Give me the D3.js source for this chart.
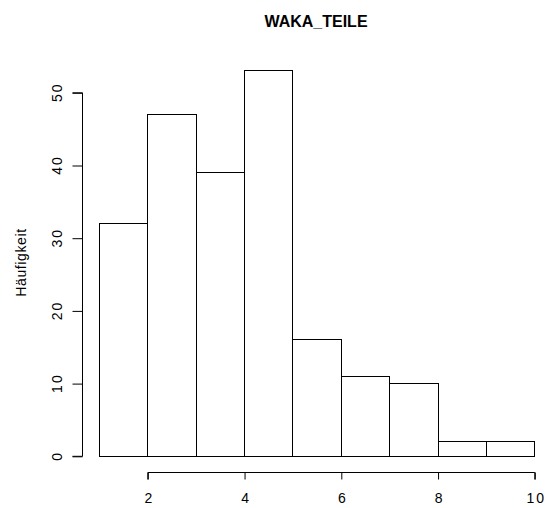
<!DOCTYPE html>
<html>
<head>
<meta charset="utf-8">
<script src="https://cdn.jsdelivr.net/npm/d3@7"></script>
<style>
  html, body { margin: 0; padding: 0; background: #fff; }
  svg { display: block; }
  text { font-family: "Liberation Sans", Arial, sans-serif; fill: #000; }
</style>
</head>
<body>
<script>
// Histogram of WAKA_TEILE: bin edges and counts per bin
const binStarts = [1, 2, 3, 4, 5, 6, 7, 8, 9];
const binWidth = 1;
const counts = [32, 47, 39, 53, 16, 11, 10, 2, 2];
const xTicks = [2, 4, 6, 8, 10];
const yTicks = [0, 10, 20, 30, 40, 50];
const title = "WAKA_TEILE";
const yLabel = "Häufigkeit";

const W = 549, H = 508;
const svg = d3.select("body").append("svg").attr("width", W).attr("height", H);

const x = d3.scaleLinear().domain([2, 10]).range([147.3, 534.3]);
const y = d3.scaleLinear().domain([0, 50]).range([455.8, 92.3]);

const tickFont = g => g
  .style("font-size", "14px")
  .style("letter-spacing", "2px")
  .style("font-family", "'Liberation Sans', Arial, sans-serif");

// bars
svg.append("g")
  .selectAll("rect")
  .data(binStarts.map((s, i) => ({ s, c: counts[i] })))
  .join("rect")
  .attr("x", d => Math.round(x(d.s)) + 0.5)
  .attr("y", d => Math.round(y(d.c)) + 0.5)
  .attr("width", d => Math.round(x(d.s + binWidth)) - Math.round(x(d.s)))
  .attr("height", d => Math.round(y(0)) - Math.round(y(d.c)))
  .attr("fill", "#fff")
  .attr("stroke", "#000")
  .attr("stroke-width", 1);

// x axis (detached, below the bars)
const xAxisY = 472.5;
const xAxis = d3.axisBottom(x).tickValues(xTicks).tickSize(7).tickPadding(13.5)
  .tickFormat(d3.format("d"));
const gx = svg.append("g").attr("transform", `translate(0.5,${xAxisY})`).call(xAxis);
gx.select(".domain").attr("d", `M${x(2)},7V0H${x(10)}V7`).attr("stroke", "#000");
gx.selectAll(".tick line").attr("stroke", "#000");
gx.selectAll(".tick text").attr("dx", 1).call(tickFont);

// y axis (detached, left of the bars)
const yAxisX = 82.5;
const yAxis = d3.axisLeft(y).tickValues(yTicks).tickSize(10).tickPadding(0)
  .tickFormat(d3.format("d"));
const gy = svg.append("g").attr("transform", `translate(${yAxisX},0.5)`).call(yAxis);
gy.select(".domain").attr("d", `M-10,${y(0)}H0V${y(50)}H-10`).attr("stroke", "#000");
gy.selectAll(".tick line").attr("stroke", "#000");
gy.selectAll(".tick text")
  .attr("x", null).attr("dy", null).attr("dx", 1)
  .attr("text-anchor", "middle")
  .attr("transform", "translate(-21,0) rotate(-90)")
  .call(tickFont);

// y axis title
svg.append("text")
  .attr("transform", `translate(26,262.5) rotate(-90)`)
  .attr("text-anchor", "middle")
  .style("font-size", "14px")
  .style("letter-spacing", "0.6px")
  .text(yLabel);

// chart title
svg.append("text")
  .attr("x", 316)
  .attr("y", 26.5)
  .attr("text-anchor", "middle")
  .style("font-size", "16px")
  .style("font-weight", "bold")
  .text(title);
</script>
</body>
</html>
